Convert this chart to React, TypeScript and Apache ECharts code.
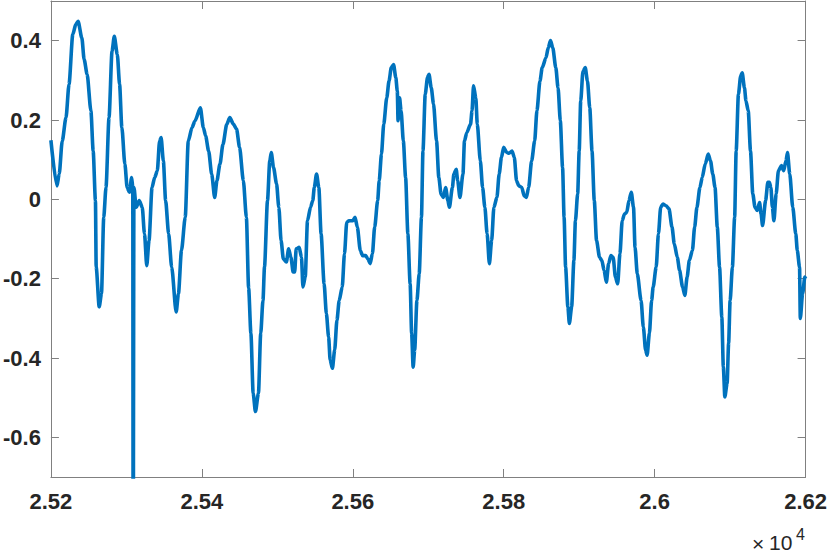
import React, { useEffect, useRef } from "react";
import * as echarts from "echarts";

const xRange = [25200, 26200];
const yRange = [-0.7, 0.5];
const yTickValues = [-0.6, -0.4, -0.2, 0, 0.2, 0.4];
const exponentTimes = "×";
const exponentBase = "10";
const exponentPower = "4";

const signal: [number, number][] = [
  [25200,0.149],[25208,0.034],[25211,0.064],[25215,0.147],[25220,0.206],[25224,0.290],[25229,0.416],[25233,0.441],[25236,0.449],[25241,0.407],[25244,0.353],[25248,0.315],[25253,0.223],[25256,0.122],[25259,-0.003],[25260,-0.171],[25264,-0.271],[25267,-0.238],[25270,-0.045],[25273,0.030],[25277,0.206],[25281,0.374],[25284,0.411],[25288,0.365],[25291,0.290],[25294,0.181],[25298,0.089],[25301,0.030],[25304,0.018],[25307,0.055],[25308.5,0.030],[25309,-1.0],[25310,0.030],[25313,-0.020],[25317,-0.003],[25321,-0.020],[25324,-0.087],[25327,-0.167],[25330,-0.104],[25334,0.030],[25337.5,0.055],[25341,0.072],[25344,0.147],[25346,0.156],[25349,0.097],[25352,-0.003],[25356,-0.087],[25360,-0.171],[25366,-0.284],[25369,-0.238],[25373,-0.129],[25378,-0.045],[25382,0.147],[25387,0.181],[25391,0.198],[25398,0.231],[25402,0.181],[25405,0.160],[25409,0.122],[25413,0.064],[25417,0.005],[25420,0.047],[25424,0.089],[25428,0.139],[25433,0.189],[25437,0.206],[25442,0.189],[25446,0.177],[25450,0.131],[25455,0.047],[25459,-0.045],[25462,-0.224],[25465,-0.338],[25468,-0.489],[25471,-0.535],[25475,-0.489],[25478,-0.338],[25481,-0.255],[25483,-0.171],[25487,-0.003],[25490,0.097],[25492,0.118],[25495,0.080],[25499,0.039],[25502,-0.020],[25505,-0.104],[25508,-0.150],[25512,-0.158],[25515,-0.125],[25518,-0.146],[25521,-0.183],[25523,-0.183],[25525,-0.125],[25529,-0.121],[25532,-0.146],[25534,-0.221],[25537,-0.196],[25540,-0.054],[25544,-0.020],[25547,-0.003],[25549,0.030],[25552,0.064],[25555,0.030],[25558,-0.087],[25562,-0.213],[25565,-0.288],[25568,-0.347],[25570,-0.405],[25573,-0.426],[25576,-0.380],[25579,-0.305],[25582,-0.255],[25586,-0.221],[25589,-0.137],[25592,-0.058],[25595,-0.054],[25600,-0.054],[25603,-0.045],[25606,-0.070],[25610,-0.129],[25613,-0.142],[25617,-0.142],[25620,-0.150],[25623,-0.162],[25626,-0.137],[25629,-0.070],[25633,-0.003],[25635,0.047],[25638,0.114],[25641,0.189],[25645,0.256],[25648,0.298],[25651,0.332],[25654,0.340],[25657,0.307],[25659,0.273],[25660,0.198],[25662,0.256],[25664,0.223],[25667,0.147],[25670,0.055],[25673,-0.087],[25676,-0.213],[25678,-0.338],[25680,-0.423],[25682,-0.380],[25685,-0.255],[25688,-0.188],[25691,-0.045],[25693,0.122],[25696,0.265],[25699,0.307],[25701,0.315],[25704,0.281],[25707,0.240],[25711,0.147],[25714,0.055],[25717,0.013],[25720,0.005],[25723,0.030],[25726,-0.003],[25728,-0.020],[25732,0.030],[25734,0.064],[25737,0.076],[25739,0.047],[25742,0.005],[25746,0.064],[25748,0.147],[25751,0.168],[25756,0.189],[25758,0.223],[25760,0.286],[25763,0.256],[25765,0.189],[25769,0.097],[25772,0.030],[25775,-0.020],[25778,-0.087],[25781,-0.162],[25784,-0.104],[25787,-0.020],[25791,0.005],[25794,0.064],[25797,0.106],[25800,0.131],[25804,0.118],[25807,0.116],[25811,0.122],[25814,0.106],[25817,0.047],[25820,0.034],[25824,0.030],[25827,0.009],[25830,0.005],[25833,0.030],[25837,0.097],[25841,0.147],[25844,0.223],[25848,0.298],[25851,0.332],[25856,0.357],[25859,0.382],[25862,0.400],[25865,0.382],[25869,0.332],[25872,0.281],[25875,0.198],[25878,0.080],[25880,-0.045],[25882,-0.171],[25885,-0.271],[25887,-0.313],[25890,-0.271],[25893,-0.154],[25895,-0.054],[25898,0.014],[25900,0.122],[25902,0.248],[25905,0.323],[25908,0.332],[25911,0.298],[25914,0.231],[25917,0.122],[25920,-0.003],[25923,-0.104],[25927,-0.146],[25930,-0.154],[25933,-0.179],[25936,-0.209],[25939,-0.162],[25942,-0.142],[25945,-0.146],[25948,-0.196],[25951,-0.213],[25954,-0.137],[25957,-0.054],[25960,-0.037],[25963,-0.033],[25966,-0.003],[25969,0.018],[25972,-0.020],[25974,-0.121],[25977,-0.188],[25982,-0.255],[25985,-0.322],[25988,-0.380],[25990,-0.393],[25993,-0.338],[25996,-0.255],[25998,-0.221],[26002,-0.171],[26005,-0.087],[26008,-0.020],[26011,-0.012],[26015,-0.016],[26019,-0.024],[26023,-0.070],[26026,-0.112],[26030,-0.146],[26033,-0.179],[26037,-0.221],[26040,-0.242],[26043,-0.196],[26046,-0.154],[26050,-0.129],[26053,-0.070],[26056,-0.020],[26060,0.030],[26063,0.055],[26067,0.089],[26071,0.114],[26074,0.097],[26077,0.064],[26080,0.030],[26083,-0.070],[26086,-0.171],[26089,-0.297],[26091,-0.422],[26093,-0.498],[26096,-0.464],[26098,-0.363],[26100,-0.255],[26103,-0.171],[26106,-0.045],[26108,0.122],[26111,0.265],[26114,0.311],[26116,0.319],[26119,0.281],[26121,0.248],[26124,0.223],[26127,0.122],[26130,0.014],[26133,-0.020],[26136,-0.028],[26139,-0.008],[26141,-0.037],[26143,-0.066],[26147,-0.003],[26150,0.043],[26152,0.043],[26154,0.030],[26156,-0.020],[26158,-0.054],[26161,0.014],[26164,0.072],[26168,0.085],[26171,0.072],[26174,0.097],[26176,0.118],[26179,0.064],[26183,-0.020],[26187,-0.087],[26189,-0.129],[26192,-0.171],[26193,-0.300],[26196,-0.238],[26199,-0.196],[26200,-0.200]
];

const AXIS_COLOR = "#808080";
const TEXT_COLOR = "#262626";
const FONT = "'Liberation Sans', Arial, Helvetica, sans-serif";

export default function App() {
  const ref = useRef<HTMLDivElement>(null);
  useEffect(() => {
    if (!ref.current) return;
    const chart = echarts.init(ref.current, undefined, { renderer: "svg" });
    const axisLine = { show: true, lineStyle: { color: AXIS_COLOR, width: 1 } };
    const tick = { show: true, inside: true, length: 8, lineStyle: { color: AXIS_COLOR, width: 1 } };
    chart.setOption({
      animation: false,
      backgroundColor: "#ffffff",
      grid: { left: 48, right: 22.5, top: 1, bottom: 77, containLabel: false },
      xAxis: [
        {
          type: "value",
          min: xRange[0],
          max: xRange[1],
          interval: 200,
          position: "bottom",
          axisLine: { ...axisLine, onZero: false },
          axisTick: tick,
          splitLine: { show: false },
          axisLabel: {
            color: TEXT_COLOR,
            fontSize: 22,
            fontWeight: "bold",
            fontFamily: FONT,
            margin: 13,
            formatter: (v: number) => String(parseFloat((v / 10000).toFixed(4))),
          },
        },
        {
          type: "value",
          min: xRange[0],
          max: xRange[1],
          interval: 200,
          position: "top",
          axisLine: { ...axisLine, onZero: false },
          axisTick: tick,
          splitLine: { show: false },
          axisLabel: { show: false },
        },
      ],
      yAxis: [
        {
          type: "value",
          min: yRange[0],
          max: yRange[1],
          position: "left",
          axisLine: { ...axisLine, onZero: false },
          axisTick: { ...tick, customValues: yTickValues },
          splitLine: { show: false },
          axisLabel: {
            customValues: yTickValues,
            color: TEXT_COLOR,
            fontSize: 22,
            fontWeight: "bold",
            fontFamily: FONT,
            margin: 10,
            formatter: (v: number) => String(parseFloat(v.toFixed(4))),
          },
        },
        {
          type: "value",
          min: yRange[0],
          max: yRange[1],
          position: "right",
          axisLine: { ...axisLine, onZero: false },
          axisTick: { ...tick, customValues: yTickValues },
          splitLine: { show: false },
          axisLabel: { show: false, customValues: yTickValues },
        },
      ],
      series: [
        {
          type: "line",
          xAxisIndex: 0,
          yAxisIndex: 0,
          data: signal,
          showSymbol: false,
          clip: true,
          smooth: 0.25,
          smoothMonotone: "x",
          lineStyle: { color: "#0072BD", width: 3.6, join: "round" },
          itemStyle: { color: "#0072BD" },
        },
      ],
      graphic: [
        {
          type: "text",
          x: 752,
          y: 543,
          style: { text: exponentTimes, fontSize: 21, fontFamily: FONT, fill: TEXT_COLOR, verticalAlign: "middle", align: "left" },
        },
        {
          type: "text",
          x: 769,
          y: 542,
          style: { text: exponentBase, fontSize: 21, fontFamily: FONT, fill: TEXT_COLOR, verticalAlign: "middle", align: "left" },
        },
        {
          type: "text",
          x: 796,
          y: 534,
          style: { text: exponentPower, fontSize: 16, fontFamily: FONT, fill: TEXT_COLOR, verticalAlign: "middle", align: "left" },
        },
      ],
    });
    return () => chart.dispose();
  }, []);
  return (
    <div
      ref={ref}
      style={{ position: "fixed", left: 0, top: 0, width: 830, height: 554, background: "#fff" }}
    />
  );
}
